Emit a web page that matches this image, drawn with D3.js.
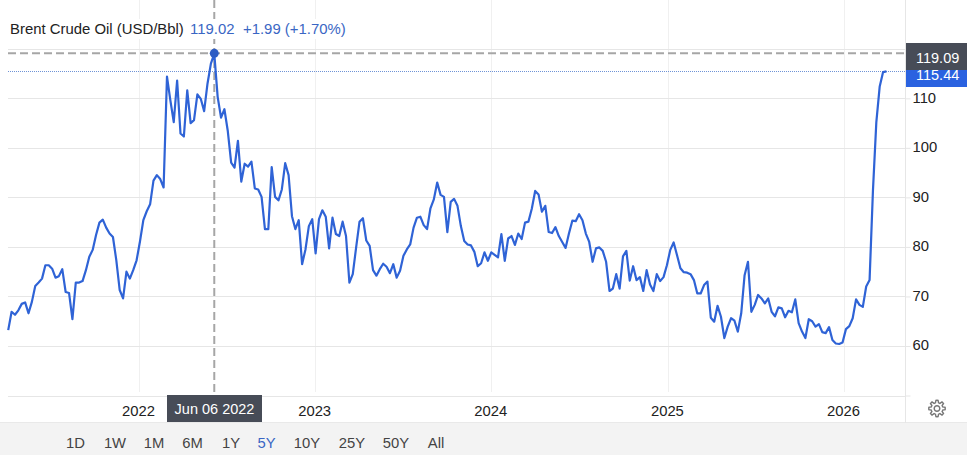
<!DOCTYPE html>
<html>
<head>
<meta charset="utf-8">
<script src="https://cdn.jsdelivr.net/npm/d3@7"></script>
<style>
html,body{margin:0;padding:0;background:#fff;overflow:hidden}
text{font-family:"Liberation Sans",Arial,sans-serif}
</style>
</head>
<body>
<svg id="c" width="967" height="455"></svg>
<script>
const firstWeek = "2021-04-05";
const prices = [
63.2,66.9,66.3,67.2,68.5,68.8,66.6,68.9,72.1,72.8,73.6,76.3,76.3,75.6,73.8,74.1,75.5,70.9,70.7,65.4,
72.8,72.8,73.1,75.3,78,79.4,82.4,84.9,85.5,83.9,82.7,82,77.3,71.3,69.6,75,73.6,75.3,77.3,81.1,
85.4,87.2,88.6,93.4,94.5,93.7,92,114.4,109.6,105.2,113.6,102.9,102.3,111.6,105,105.6,110.8,109.9,107.4,113,
117,119.02,110.3,106.1,107.8,103.4,97,96,101.4,93.2,96.8,96.2,97.2,91.8,91.6,90.1,83.6,83.6,96.1,90.1,
89.4,91.6,96.9,94.5,86.2,83.6,85.4,76.5,79.5,84.2,85.6,78.7,85.6,87.4,86.1,79.7,85.9,82.6,82.2,85.1,
82.2,72.8,74.5,79.9,85.1,85.8,81.3,80.2,75.3,74.2,75.5,76.6,76,74.7,76.5,73.8,75.2,78.2,79.5,80.5,
83.9,85.9,86.1,84.4,83.6,87.8,89.6,93,90.5,90.1,83,89.1,89.7,88.3,84.2,81.2,80.5,80.3,79,76.1,
76.7,78.9,77.2,78.9,78.4,77.9,82.6,77.2,81.7,82.2,80.4,82.7,81.6,84.9,85.1,87.7,91.3,90.6,87.1,88.3,
83,82.8,84,82.2,81,79.8,82.7,85.3,85.2,86.6,85.4,82.7,81,77,79.7,79.9,79.2,77,71.1,71.6,
74.5,71.6,78.1,79.2,73.2,76.1,73.3,73.9,71.1,75.3,72.4,71.1,74.5,73.1,73.9,76.3,79.4,80.9,78.3,75.7,
74.9,74.8,74.5,73.3,70.6,70.6,72.3,73,65.7,64.9,68.1,65.9,61.6,63.9,65.6,65.1,62.9,66.6,74.3,77,
66.9,68.3,70.3,69.6,68.6,69.6,66.9,66,67.8,67.6,65.8,67.1,66.8,69.4,64.6,62.9,61.6,65.4,65,63.9,
64.4,62.8,62.6,63.8,61.2,60.5,60.4,60.7,63.4,64,65.6,69.4,68.3,67.9,72,73.3,91.4,105.2,112.4,115.3,115.44
];
const priceTicks = [50,60,70,80,90,100,110,120];
const priceTickLabels = [60,70,80,90,100,110,120];
const yearTicks = [2022,2023,2024,2025,2026];
const ranges = ["1D","1W","1M","6M","1Y","5Y","10Y","25Y","50Y","All"];
const rangeCentres = [75.5,115,154,192.5,231,266.5,307,352,396,436];
const activeRange = "5Y";
const title = "Brent Crude Oil (USD/Bbl)";
const hoverValue = "119.02";
const hoverChange = "+1.99 (+1.70%)";
const hoverDate = "2022-06-06";
const hoverDateLabel = "Jun 06 2022";
const crosshairPrice = 119.09;
const lastPrice = 115.44;

const parse = d3.utcParse("%Y-%m-%d");
const dates = prices.map((_, i) => d3.utcDay.offset(parse(firstWeek), i * 7));
const series = prices.map((v, i) => ({date: dates[i], value: v}));

const x = d3.scaleUtc()
  .domain([new Date(Date.UTC(2022,0,1)), new Date(Date.UTC(2026,0,1))])
  .range([139, 844]);
const y = d3.scaleLinear().domain([50,120]).range([395.5,48.8]);

const svg = d3.select("#c");
const GRID = "#e6e6e6", INK = "#222";
const FONT = '"Liberation Sans",Arial,sans-serif';
const left = 8, right = 905.5;

// footer band
svg.append("rect").attr("x",0).attr("y",423).attr("width",967).attr("height",32).attr("fill","#f3f3f3");
svg.append("line").attr("x1",0).attr("x2",967).attr("y1",422.5).attr("y2",422.5).attr("stroke","#e9e9e9");

// vertical grid
svg.append("g").selectAll("line").data(yearTicks).join("line")
  .attr("x1",d=>Math.round(x(new Date(Date.UTC(d,0,1))))+.5)
  .attr("x2",d=>Math.round(x(new Date(Date.UTC(d,0,1))))+.5)
  .attr("y1",0).attr("y2",392).attr("stroke","#f0f0f0");

// horizontal grid
svg.append("g").selectAll("line").data(priceTicks).join("line")
  .attr("x1",left).attr("x2",right)
  .attr("y1",d=>Math.round(y(d))+.5).attr("y2",d=>Math.round(y(d))+.5)
  .attr("stroke",GRID);

// right axis line
svg.append("line").attr("x1",right).attr("x2",right).attr("y1",0).attr("y2",423).attr("stroke",GRID);

// y axis
const yAxis = svg.append("g").attr("transform",`translate(${right},0)`)
  .call(d3.axisRight(y).tickValues(priceTicks).tickSize(5).tickPadding(2)
    .tickFormat(d=>priceTickLabels.includes(d)?d:""));
yAxis.select(".domain").remove();
yAxis.selectAll(".tick line").attr("stroke",GRID);
yAxis.selectAll(".tick text").attr("fill",INK).attr("font-size",14.8).attr("font-family",FONT).attr("dy","0.25em");

// x axis
const xAxis = svg.append("g").attr("transform","translate(-1,397)")
  .call(d3.axisBottom(x).tickValues(yearTicks.map(d=>new Date(Date.UTC(d,0,1)))).tickSize(0).tickPadding(8)
    .tickFormat(d3.utcFormat("%Y")));
xAxis.select(".domain").remove();
xAxis.selectAll(".tick text").attr("fill",INK).attr("font-size",14.8).attr("font-family",FONT);

// last price dotted line
svg.append("line").attr("x1",left).attr("x2",right).attr("y1",Math.round(y(lastPrice))+.5).attr("y2",Math.round(y(lastPrice))+.5)
  .attr("stroke","#6f93d6").attr("stroke-dasharray","1,1");

// crosshair
const hx = x(parse(hoverDate));
svg.append("line").attr("x1",left).attr("x2",right).attr("y1",y(crosshairPrice)).attr("y2",y(crosshairPrice))
  .attr("stroke","#a6a6a6").attr("stroke-width",2).attr("stroke-dasharray","8,4");
svg.append("line").attr("x1",hx).attr("x2",hx).attr("y1",0).attr("y2",395)
  .attr("stroke","#a6a6a6").attr("stroke-width",2).attr("stroke-dasharray","8,4");

// price line
const line = d3.line().x(d=>x(d.date)).y(d=>y(d.value));
svg.append("path").datum(series).attr("d",line).attr("fill","none")
  .attr("stroke","#2f63d6").attr("stroke-width",2.2).attr("stroke-linejoin","round");

// hover dot
svg.append("circle").attr("cx",hx).attr("cy",y(crosshairPrice)).attr("r",4.5).attr("fill","#2d5cc4");

// title row
svg.append("rect").attr("x",8).attr("y",19).attr("width",342).attr("height",20).attr("fill","#fff");
const t = svg.append("text").attr("x",10).attr("y",34).attr("font-size",14.9).attr("fill",INK);
t.append("tspan").text(title);
t.append("tspan").attr("x",190).attr("fill","#3a66c4").text(hoverValue);
t.append("tspan").attr("x",243).attr("fill","#3a66c4").text(hoverChange);

// price flags
svg.append("rect").attr("x",906).attr("y",43).attr("width",61).attr("height",27).attr("fill","#474c57");
svg.append("rect").attr("x",906).attr("y",70).attr("width",61).attr("height",17).attr("fill","#2a62e0");
svg.append("text").attr("x",916).attr("y",62.5).attr("font-size",14.5).attr("fill","#fff").text(crosshairPrice.toFixed(2));
svg.append("text").attr("x",916).attr("y",80).attr("font-size",14.5).attr("fill","#fff").text(lastPrice.toFixed(2));

// date flag
svg.append("rect").attr("x",167).attr("y",395).attr("width",95).attr("height",27).attr("fill","#474c57");
svg.append("text").attr("x",214.5).attr("y",414).attr("text-anchor","middle").attr("font-size",14.5).attr("fill","#fff").text(hoverDateLabel);

// range buttons
svg.append("g").selectAll("text").data(ranges).join("text")
  .attr("x",(d,i)=>rangeCentres[i]).attr("y",448).attr("text-anchor","middle")
  .attr("font-size",14.8).attr("fill",d=>d===activeRange?"#3a66c4":"#444").text(d=>d);

// settings gear
const gear = d3.range(0,48).map(i=>{
  const a = i/48*2*Math.PI;
  const phase = (i+1)%6;
  const r = phase<3 ? 8.2 : 5.9;
  return [a,r];
});
const g = svg.append("g").attr("transform","translate(937,408.5)");
g.append("path").attr("d",d3.lineRadial().curve(d3.curveLinearClosed)(gear)).attr("fill","none").attr("stroke","#777").attr("stroke-width",1.4);
g.append("circle").attr("r",2.8).attr("fill","none").attr("stroke","#777").attr("stroke-width",1.4);
</script>
</body>
</html>
